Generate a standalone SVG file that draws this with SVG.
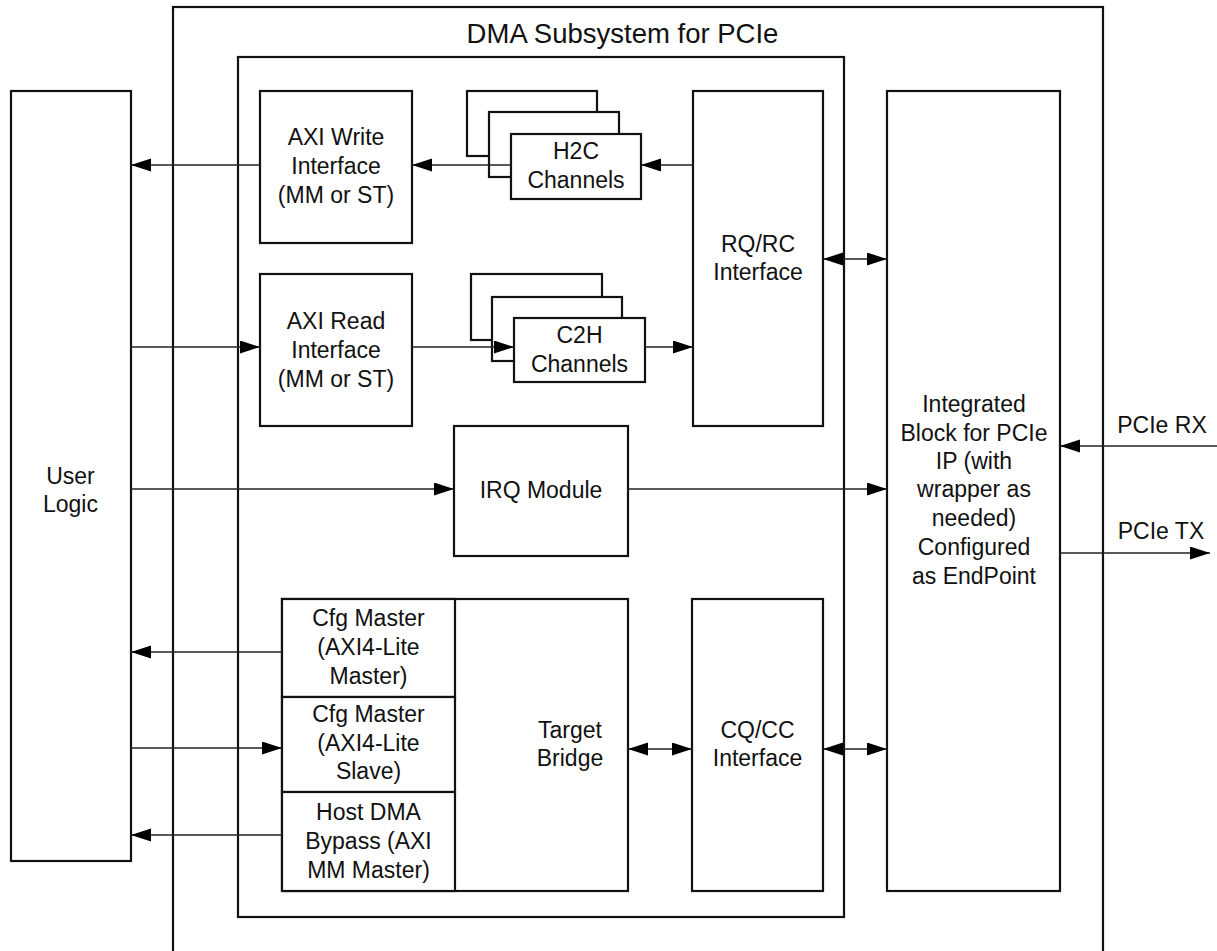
<svg xmlns="http://www.w3.org/2000/svg" width="1217" height="951" viewBox="0 0 1217 951">
<defs>
<marker id="ah" markerUnits="userSpaceOnUse" markerWidth="20" markerHeight="14" refX="20" refY="6.5" orient="auto-start-reverse">
<path d="M0,0 L20,6.5 L0,13 z" fill="#000"/>
</marker>
</defs>
<style>
.box{fill:#fff;stroke:#111;stroke-width:2.2}
.frame{fill:none;stroke:#111;stroke-width:2.2}
.t{font-family:"Liberation Sans",Arial,sans-serif;font-size:23px;fill:#111;text-anchor:middle}
.title{font-family:"Liberation Sans",Arial,sans-serif;font-size:27.5px;fill:#111;text-anchor:middle}
.c{stroke:#222;stroke-width:1.3;fill:none}
.a{marker-end:url(#ah)}
.d{marker-start:url(#ah);marker-end:url(#ah)}
</style>
<rect width="1217" height="951" fill="#fff"/>
<g id="dma-subsystem">
<rect class="frame" x="173" y="7" width="930" height="960"/>
<text class="title" x="622.5" y="43">DMA Subsystem for PCIe</text>
</g>
<g id="inner-frame">
<rect class="frame" x="238" y="57" width="606" height="860"/>
</g>
<g id="user-logic">
<rect class="box" x="11" y="91" width="120" height="770"/>
<text class="t" x="70.5" y="484">User</text>
<text class="t" x="70.5" y="512">Logic</text>
</g>
<g id="axi-write">
<rect class="box" x="260" y="91" width="152" height="152"/>
<text class="t" x="336" y="145">AXI Write</text>
<text class="t" x="336" y="174">Interface</text>
<text class="t" x="336" y="203">(MM or ST)</text>
</g>
<g id="h2c">
<rect class="box" x="467" y="91" width="130" height="65"/>
<rect class="box" x="489" y="112" width="130" height="65"/>
<rect class="box" x="511" y="134" width="130" height="65"/>
<text class="t" x="576" y="159">H2C</text>
<text class="t" x="576" y="188">Channels</text>
</g>
<g id="axi-read">
<rect class="box" x="260" y="274" width="152" height="152"/>
<text class="t" x="336" y="329">AXI Read</text>
<text class="t" x="336" y="358">Interface</text>
<text class="t" x="336" y="387">(MM or ST)</text>
</g>
<g id="c2h">
<rect class="box" x="471" y="274" width="131" height="66"/>
<rect class="box" x="492" y="297" width="130" height="64"/>
<rect class="box" x="514" y="318" width="131" height="64"/>
<text class="t" x="579.5" y="343">C2H</text>
<text class="t" x="579.5" y="372">Channels</text>
</g>
<g id="rqrc">
<rect class="box" x="693" y="91" width="130" height="335"/>
<text class="t" x="758" y="252">RQ/RC</text>
<text class="t" x="758" y="280">Interface</text>
</g>
<g id="irq">
<rect class="box" x="454" y="426" width="174" height="130"/>
<text class="t" x="541" y="498">IRQ Module</text>
</g>
<g id="target-bridge">
<rect class="box" x="282" y="599" width="346" height="292"/>
<text class="t" x="570" y="738">Target</text>
<text class="t" x="570" y="766">Bridge</text>
</g>
<g id="cfg-master">
<rect class="box" x="282" y="599" width="173" height="98"/>
<text class="t" x="368.5" y="626">Cfg Master</text>
<text class="t" x="368.5" y="655">(AXI4-Lite</text>
<text class="t" x="368.5" y="684">Master)</text>
</g>
<g id="cfg-slave">
<rect class="box" x="282" y="697" width="173" height="95"/>
<text class="t" x="368.5" y="722">Cfg Master</text>
<text class="t" x="368.5" y="751">(AXI4-Lite</text>
<text class="t" x="368.5" y="779">Slave)</text>
</g>
<g id="host-dma-bypass">
<rect class="box" x="282" y="792" width="173" height="99"/>
<text class="t" x="368.5" y="820">Host DMA</text>
<text class="t" x="368.5" y="849">Bypass (AXI</text>
<text class="t" x="368.5" y="878">MM Master)</text>
</g>
<g id="cqcc">
<rect class="box" x="692" y="599" width="131" height="292"/>
<text class="t" x="757.5" y="738">CQ/CC</text>
<text class="t" x="757.5" y="766">Interface</text>
</g>
<g id="integrated-block">
<rect class="box" x="887" y="91" width="173" height="800"/>
<text class="t" x="974" y="412">Integrated</text>
<text class="t" x="974" y="441">Block for PCIe</text>
<text class="t" x="974" y="469">IP (with</text>
<text class="t" x="974" y="497">wrapper as</text>
<text class="t" x="974" y="526">needed)</text>
<text class="t" x="974" y="555">Configured</text>
<text class="t" x="974" y="584">as EndPoint</text>
</g>
<g id="pcie-labels">
<text class="t" x="1162" y="433">PCIe RX</text>
<text class="t" x="1161" y="539">PCIe TX</text>
</g>
<g id="connectors">
<line class="c a" x1="260" y1="165" x2="131" y2="165"/>
<line class="c a" x1="511" y1="165" x2="412" y2="165"/>
<line class="c a" x1="693" y1="165" x2="641" y2="165"/>
<line class="c a" x1="131" y1="347" x2="260" y2="347"/>
<line class="c a" x1="412" y1="347" x2="514" y2="347"/>
<line class="c a" x1="645" y1="347" x2="693" y2="347"/>
<line class="c d" x1="823" y1="259" x2="887" y2="259"/>
<line class="c a" x1="131" y1="489" x2="454" y2="489"/>
<line class="c a" x1="628" y1="489" x2="887" y2="489"/>
<line class="c a" x1="1217" y1="446" x2="1060" y2="446"/>
<line class="c a" x1="1060" y1="553" x2="1210" y2="553"/>
<line class="c a" x1="282" y1="652" x2="131" y2="652"/>
<line class="c a" x1="131" y1="748" x2="282" y2="748"/>
<line class="c a" x1="282" y1="835" x2="131" y2="835"/>
<line class="c d" x1="628" y1="749" x2="692" y2="749"/>
<line class="c d" x1="823" y1="749" x2="887" y2="749"/>
</g>
</svg>
